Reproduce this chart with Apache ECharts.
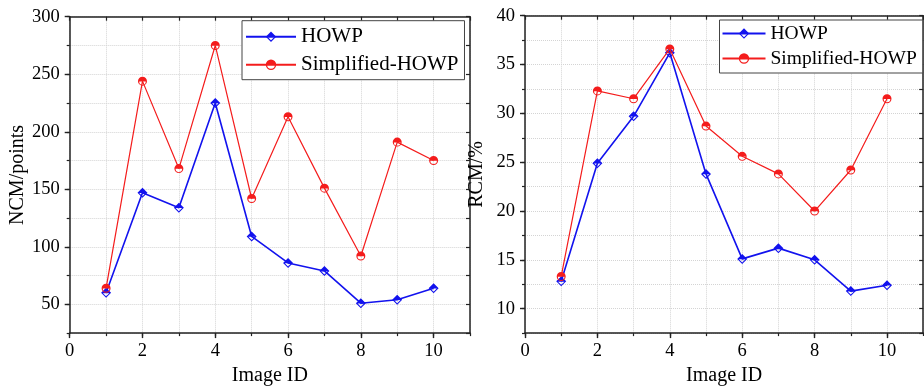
<!DOCTYPE html>
<html><head><meta charset="utf-8">
<script src="https://cdn.jsdelivr.net/npm/echarts@6/dist/echarts.min.js"></script>
<style>html,body{margin:0;padding:0;background:#fff}#c{width:924px;height:391px}</style>
</head><body><div id="c"></div>
<script>
var imageIds = [1, 2, 3, 4, 5, 6, 7, 8, 9, 10];
var ncmHowp = [60, 147, 134, 225, 109, 86, 79, 51, 54, 64];
var ncmSimplified = [64, 244, 168, 275, 142, 213, 151, 92, 191, 175];
var rcmHowp = [12.8, 24.9, 29.7, 36.2, 23.8, 15.1, 16.2, 15.0, 11.8, 12.4];
var rcmSimplified = [13.3, 32.3, 31.5, 36.6, 28.7, 25.6, 23.8, 20.0, 24.2, 31.5];
var xTickLabels = [0, 2, 4, 6, 8, 10];
var ncmTickLabels = [50, 100, 150, 200, 250, 300];
var rcmTickLabels = [10, 15, 20, 25, 30, 35, 40];
var seriesNames = ['HOWP', 'Simplified-HOWP'];

var FONT = 'Liberation Serif';
var BLUE = '#1212ee';
var RED = '#f41c1c';
var AXC = '#222';
var circleHalf = 'path://M0,10A10,10,0,1,1,20,10A10,10,0,1,1,0,10ZM2.7,10.6A7.3,7.3,0,0,0,17.3,10.6Z';
var diamondHalf = 'path://M10,0L20,10L10,20L0,10ZM3.6,10.6L10,17L16.4,10.6Z';

function pairs(xs, ys) { return xs.map(function (x, i) { return [x, ys[i]]; }); }

function xAxesFor(g, majors) {
  var base = { type: 'value', gridIndex: g, min: 0, max: 11, interval: 1 };
  return [
    Object.assign({}, base, {
      position: 'bottom', name: 'Image ID', nameLocation: 'middle', nameGap: 25,
      nameTextStyle: { fontFamily: FONT, fontSize: 20, color: '#000' },
      axisLine: { onZero: false, lineStyle: { color: AXC, width: 1.5 } },
      axisTick: { show: true, inside: false, length: 3, lineStyle: { color: AXC, width: 1.2 } },
      axisLabel: { show: true, customValues: majors, margin: 9, fontFamily: FONT, fontSize: 18.5, color: '#000' },
      splitLine: { show: true, lineStyle: { color: '#d4d4d4', type: 'dotted', width: 1 } }
    }),
    Object.assign({}, base, {
      position: 'bottom',
      axisLine: { show: false, onZero: false },
      axisTick: { show: true, customValues: majors, inside: false, length: 5, lineStyle: { color: AXC, width: 1.4 } },
      axisLabel: { show: false }, splitLine: { show: false }
    }),
    Object.assign({}, base, {
      position: 'top',
      axisLine: { onZero: false, lineStyle: { color: AXC, width: 1.5 } },
      axisTick: { show: true, inside: true, length: 4, lineStyle: { color: AXC, width: 1.2 } },
      axisLabel: { show: false }, splitLine: { show: false }
    })
  ];
}

function yAxesFor(g, min, max, step, majors, name, gap) {
  var base = { type: 'value', gridIndex: g, min: min, max: max, interval: step };
  return [
    Object.assign({}, base, {
      position: 'left', name: name, nameLocation: 'middle', nameGap: gap,
      nameTextStyle: { fontFamily: FONT, fontSize: 20, color: '#000' },
      axisLine: { onZero: false, lineStyle: { color: AXC, width: 1.5 } },
      axisTick: { show: true, inside: false, length: 3, lineStyle: { color: AXC, width: 1.2 } },
      axisLabel: { show: true, customValues: majors, margin: 10, fontFamily: FONT, fontSize: 18.5, color: '#000' },
      splitLine: { show: true, lineStyle: { color: '#d4d4d4', type: 'dotted', width: 1 } }
    }),
    Object.assign({}, base, {
      position: 'left',
      axisLine: { show: false, onZero: false },
      axisTick: { show: true, customValues: majors, inside: false, length: 5, lineStyle: { color: AXC, width: 1.4 } },
      axisLabel: { show: false }, splitLine: { show: false }
    }),
    Object.assign({}, base, {
      position: 'right',
      axisLine: { onZero: false, lineStyle: { color: AXC, width: 1.5 } },
      axisTick: { show: true, inside: true, length: 4, lineStyle: { color: AXC, width: 1.2 } },
      axisLabel: { show: false }, splitLine: { show: false }
    })
  ];
}

function mkSeries(name, xi, yi, data, isBlue) {
  return {
    type: 'line', name: name, xAxisIndex: xi, yAxisIndex: yi, data: data,
    symbol: isBlue ? diamondHalf : circleHalf,
    symbolSize: isBlue ? [10, 10] : [9, 9],
    showAllSymbol: true,
    lineStyle: { color: isBlue ? BLUE : RED, width: isBlue ? 1.6 : 1.2 },
    itemStyle: { color: isBlue ? BLUE : RED, borderWidth: 0 },
    emphasis: { disabled: true },
    z: isBlue ? 3 : 4
  };
}

function legendFor(left, top, fs, lh, pad, iw) {
  return {
    orient: 'vertical', left: left, top: top, data: seriesNames,
    itemWidth: iw, itemHeight: 13, itemGap: 4,
    textStyle: { fontFamily: FONT, fontSize: fs, lineHeight: lh, color: '#000' },
    borderColor: '#444', borderWidth: 1, padding: pad, backgroundColor: '#fff',
    selectedMode: false
  };
}

var option = {
  animation: false,
  backgroundColor: '#fff',
  grid: [
    { left: 69.7, right: 454, top: 16.7, bottom: 53.3 },
    { left: 525, right: 0.8, top: 15.7, bottom: 55 }
  ],
  xAxis: xAxesFor(0, xTickLabels).concat(xAxesFor(1, xTickLabels)),
  yAxis: yAxesFor(0, 25, 300, 25, ncmTickLabels, 'NCM/points', 40)
    .concat(yAxesFor(1, 7.5, 40, 2.5, rcmTickLabels, 'RCM/%', 38)),
  legend: [
    legendFor(242, 20.7, 21, 24, [4, 6, 3, 3], 50),
    legendFor(719.5, 20, 19.5, 21, [3, 6, 4, 2], 43)
  ],
  series: [
    mkSeries(seriesNames[0], 0, 0, pairs(imageIds, ncmHowp), true),
    mkSeries(seriesNames[1], 0, 0, pairs(imageIds, ncmSimplified), false),
    mkSeries(seriesNames[0], 3, 3, pairs(imageIds, rcmHowp), true),
    mkSeries(seriesNames[1], 3, 3, pairs(imageIds, rcmSimplified), false)
  ]
};
var chart = echarts.init(document.getElementById('c'), null, { renderer: 'canvas' });
chart.setOption(option);
</script></body></html>
